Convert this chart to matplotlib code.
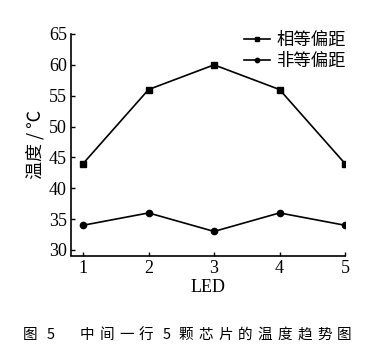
import matplotlib
matplotlib.use("Agg")
import matplotlib.pyplot as plt

plt.rcParams['font.family'] = ['Liberation Serif', 'Noto Sans CJK SC']
plt.rcParams['mathtext.fontset'] = 'stix'

leds = [1, 2, 3, 4, 5]
equal_offset = [44, 56, 60, 56, 44]
unequal_offset = [34, 36, 33, 36, 34]
yticks = [30, 35, 40, 45, 50, 55, 60, 65]
caption_head = ['图', '5']
caption_body = list('中间一行5颗芯片的温度趋势图')

fig = plt.figure(figsize=(3.87, 3.58), dpi=100)
ax = fig.add_axes([71/387, 1-255.5/358, (345-71)/387, (255.5-34)/358])

ax.plot(leds, equal_offset, color='black', lw=1.2, marker='s', ms=5, label='相等偏距')
ax.plot(leds, unequal_offset, color='black', lw=1.2, marker='o', ms=4.5, label='非等偏距')

ax.set_xlim(0.815, 5.0)
ax.set_ylim(29.1, 65)
ax.set_xticks(leds)
ax.set_yticks(yticks)
ax.tick_params(direction='in', length=3, width=1, labelsize=13, pad=3)
for s in ['top', 'right']:
    ax.spines[s].set_visible(False)
for s in ['left', 'bottom']:
    ax.spines[s].set_linewidth(1.2)

ax.set_xlabel('LED', fontsize=13, labelpad=2)
ax.set_ylabel('温度 / ℃', fontsize=13, family=['Noto Sans CJK SC', 'DejaVu Sans'], labelpad=3)

leg = ax.legend(loc='upper right', bbox_to_anchor=(1.06, 1.085), frameon=False,
                handlelength=1.5, handletextpad=0.35, labelspacing=0.2, markerscale=0.7,
                prop={'family': 'Noto Sans CJK SC', 'size': 12.5})

# caption, character by character to mimic wide CJK spacing
cy = 1 - 335/358
for i, ch in enumerate(caption_head):
    fig.text((30 + 21*i)/387, cy, ch, ha='center', va='center', fontsize=10.5,
             family=['Noto Sans CJK SC'])
for i, ch in enumerate(caption_body):
    fig.text((87 + 19.8*i)/387, cy, ch, ha='center', va='center', fontsize=10.5,
             family=['Noto Sans CJK SC'])

fig.savefig('out.png', dpi=100)
